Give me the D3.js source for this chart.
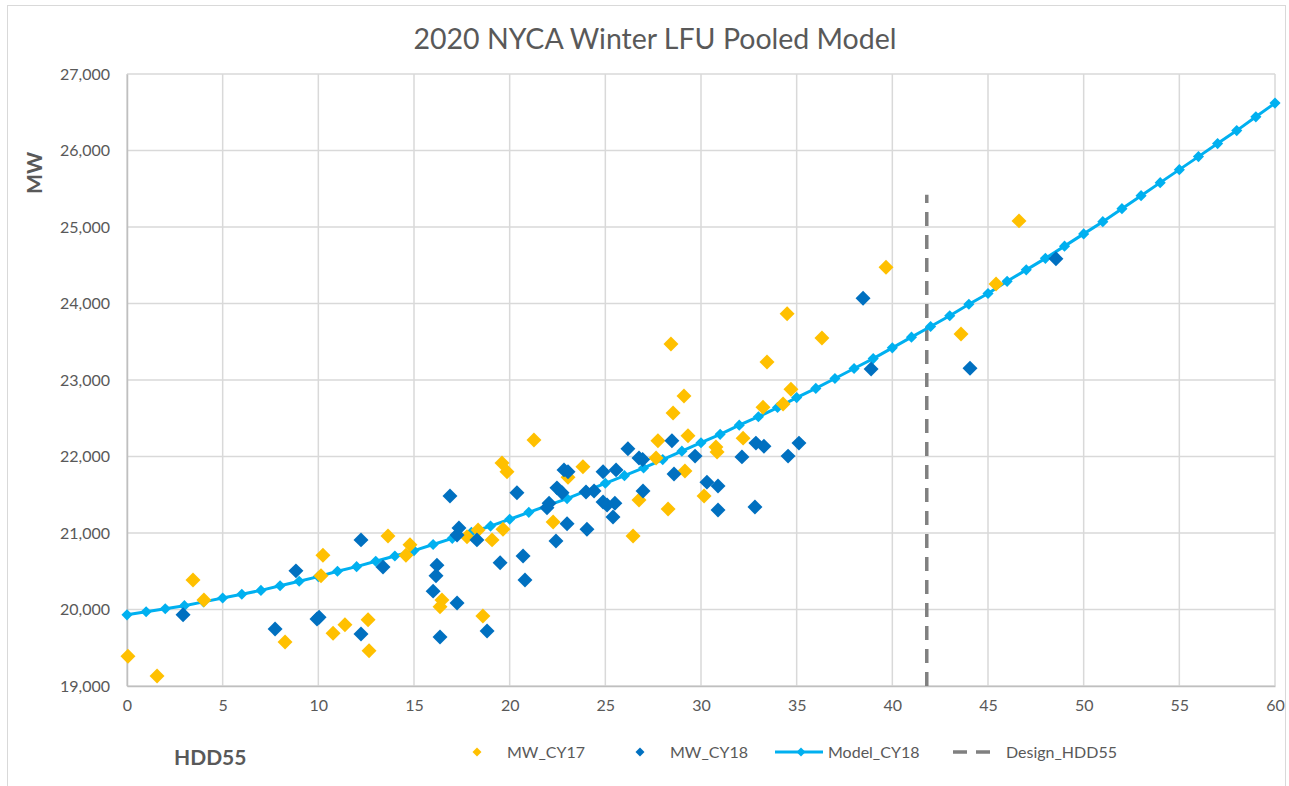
<!DOCTYPE html>
<html>
<head>
<meta charset="utf-8">
<script src="https://cdn.jsdelivr.net/npm/d3@7.9.0/dist/d3.min.js"></script>
<style>
  body { margin: 0; background: #fff; }
  svg text { font-family: Lato, "Open Sans", sans-serif; fill: #595959; }
</style>
</head>
<body>
<svg id="chart" width="1289" height="786"></svg>
<script>
// scatter data (HDD55, MW)
const cy17Hdd = [0.05, 1.57, 3.45, 4.02, 8.26, 10.24, 10.14, 10.77, 11.39, 12.6, 12.65, 13.64, 14.58, 14.79,
  16.46, 16.36, 17.77, 18.35, 19.08, 19.65, 18.6, 19.6, 19.86, 21.27, 22.27, 23.05, 23.83, 26.45, 26.76,
  27.65, 27.75, 28.28, 28.43, 28.54, 29.11, 29.16, 29.32, 30.16, 30.78, 30.84, 32.2, 33.24, 33.45, 34.29,
  34.5, 34.7, 36.32, 39.67, 43.59, 45.42, 46.62];
const cy17Mw = [19390, 19130, 20385, 20125, 19575, 20710, 20440, 19690, 19800, 19865, 19460, 20960, 20710, 20845,
  20125, 20035, 20950, 21040, 20910, 21050, 19915, 21915, 21800, 22215, 21145, 21730, 21865, 20960, 21430,
  21980, 22205, 21315, 23470, 22570, 22790, 21810, 22270, 21485, 22125, 22060, 22240, 22645, 23235, 22685,
  23865, 22880, 23550, 24475, 23600, 24255, 25080];

const cy18Hdd = [2.93, 7.74, 8.83, 9.93, 10.04, 12.23, 12.23, 13.38, 16.0, 16.15, 16.2, 16.36, 16.88, 17.25,
  17.35, 17.25, 18.29, 18.82, 19.5, 20.38, 20.7, 20.8, 21.95, 22.06, 22.42, 22.47, 22.74, 22.84, 23.0, 23.05,
  23.99, 24.04, 24.41, 24.88, 24.88, 25.09, 25.4, 25.5, 25.56, 26.18, 26.76, 26.95, 26.97, 28.48, 28.59,
  29.69, 30.31, 30.89, 30.89, 32.14, 32.82, 32.87, 33.29, 34.55, 35.12, 38.47, 38.89, 44.06, 48.55];
const cy18Mw = [19930, 19745, 20505, 19875, 19900, 19680, 20910, 20555, 20240, 20440, 20580, 19640, 21485, 20975,
  21065, 20085, 20910, 19720, 20610, 21525, 20700, 20385, 21330, 21390, 20895, 21590, 21525, 21825, 21120, 21800,
  21535, 21050, 21550, 21800, 21405, 21365, 21210, 21390, 21825, 22100, 21980, 21960, 21550, 22205, 21770,
  22005, 21665, 21615, 21300, 21995, 21340, 22175, 22135, 22005, 22175, 24070, 23145, 23155, 24585];

// model curve, one point per HDD
const modelHdd = d3.range(0, 61);
const modelMw = [19930, 19970, 20010, 20050, 20100, 20150, 20200, 20250, 20310, 20370,
  20430, 20500, 20560, 20630, 20700, 20770, 20850, 20930, 21010, 21090,
  21180, 21270, 21360, 21450, 21550, 21650, 21750, 21850, 21960, 22070,
  22180, 22290, 22410, 22520, 22640, 22770, 22890, 23020, 23150, 23280,
  23420, 23560, 23700, 23840, 23990, 24130, 24290, 24440, 24590, 24750,
  24910, 25070, 25240, 25410, 25580, 25750, 25920, 26090, 26260, 26440, 26620];

const designHdd = [41.8, 41.8];
const designMw = [19000, 25420];

const xTicks = d3.range(0, 61, 5);
const yTicks = d3.range(19000, 27001, 1000);
const legendNames = ['MW_CY17', 'MW_CY18', 'Model_CY18', 'Design_HDD55'];

const yellow = '#ffc000', blue = '#0070c0', cyan = '#00b0f0', grey = '#808080';

const svg = d3.select('#chart');
const margin = { left: 127, top: 74, right: 14, bottom: 100 };
const width = 1289 - margin.left - margin.right;
const height = 786 - margin.top - margin.bottom;

const x = d3.scaleLinear().domain([0, 60]).range([margin.left, margin.left + width]);
const y = d3.scaleLinear().domain([19000, 27000]).range([margin.top + height, margin.top]);

// outer chart border
svg.append('rect')
  .attr('x', 7.5).attr('y', 5.5).attr('width', 1278).attr('height', 790)
  .attr('fill', 'none').attr('stroke', '#d9d9d9');

// gridlines
svg.append('g').selectAll('line').data(yTicks).join('line')
  .attr('x1', x(0)).attr('x2', x(60))
  .attr('y1', d => y(d)).attr('y2', d => y(d))
  .attr('stroke', '#d9d9d9').attr('stroke-width', 1.5);
svg.append('g').selectAll('line').data(xTicks).join('line')
  .attr('x1', d => x(d)).attr('x2', d => x(d))
  .attr('y1', y(19000)).attr('y2', y(27000))
  .attr('stroke', '#d9d9d9').attr('stroke-width', 1.5);

// axes
const xAxis = svg.append('g')
  .attr('transform', `translate(0,${y(19000)})`)
  .call(d3.axisBottom(x).tickValues(xTicks).tickSize(0).tickPadding(14));
xAxis.select('.domain').attr('stroke', '#bfbfbf').attr('stroke-width', 1.5);
xAxis.selectAll('text').attr('font-size', 16).style('font-family', 'Lato, sans-serif').attr('fill', '#595959');

const yAxis = svg.append('g')
  .attr('transform', `translate(${x(0)},0)`)
  .call(d3.axisLeft(y).tickValues(yTicks).tickSize(0).tickPadding(17).tickFormat(d3.format(',')));
yAxis.select('.domain').attr('stroke', '#bfbfbf').attr('stroke-width', 1.5);
yAxis.selectAll('text').attr('font-size', 16).style('font-family', 'Lato, sans-serif').attr('fill', '#595959');

// design line
svg.append('line')
  .attr('x1', x(designHdd[0])).attr('x2', x(designHdd[1]))
  .attr('y1', y(designMw[0])).attr('y2', y(designMw[1]))
  .attr('stroke', grey).attr('stroke-width', 3.5)
  .attr('stroke-dasharray', '14 9');

const diamond = size => d3.symbol().type(d3.symbolSquare).size(size)();

// model line + markers
const model = modelHdd.map((h, i) => [h, modelMw[i]]);
svg.append('path').datum(model)
  .attr('d', d3.line().x(d => x(d[0])).y(d => y(d[1])))
  .attr('fill', 'none').attr('stroke', cyan).attr('stroke-width', 3);
svg.append('g').selectAll('path').data(model).join('path')
  .attr('d', diamond(62))
  .attr('transform', d => `translate(${x(d[0])},${y(d[1])}) rotate(45)`)
  .attr('fill', cyan);

// scatter points
function scatter(hdd, mw, color) {
  svg.append('g').selectAll('path').data(hdd.map((h, i) => [h, mw[i]])).join('path')
    .attr('d', diamond(112))
    .attr('transform', d => `translate(${x(d[0])},${y(d[1])}) rotate(45)`)
    .attr('fill', color);
}
scatter(cy17Hdd, cy17Mw, yellow);
scatter(cy18Hdd, cy18Mw, blue);

// title and axis titles
svg.append('text')
  .attr('x', 655).attr('y', 49).attr('text-anchor', 'middle')
  .attr('font-size', 28.5)
  .text('2020 NYCA Winter LFU Pooled Model');

svg.append('text')
  .attr('transform', 'translate(42,173) rotate(-90)')
  .attr('text-anchor', 'middle')
  .attr('font-size', 21).attr('font-weight', 'bold')
  .text('MW');

svg.append('text')
  .attr('x', 174).attr('y', 765)
  .attr('font-size', 21).attr('font-weight', 'bold')
  .text('HDD55');

// legend
const legend = svg.append('g').attr('transform', 'translate(0,752)');
const legendX = [477, 640, 775, 953];
legendNames.forEach((name, i) => {
  const g = legend.append('g').attr('transform', `translate(${legendX[i]},0)`);
  let textX = 30;
  if (i === 0 || i === 1) {
    g.append('path').attr('d', diamond(40)).attr('transform', 'rotate(45)')
      .attr('fill', i === 0 ? yellow : blue);
  } else if (i === 2) {
    g.append('line').attr('x1', 0).attr('x2', 48).attr('stroke', cyan).attr('stroke-width', 3);
    g.append('path').attr('d', diamond(40)).attr('transform', 'translate(26,0) rotate(45)').attr('fill', cyan);
    textX = 53;
  } else {
    g.append('line').attr('x1', 0).attr('x2', 43).attr('stroke', grey).attr('stroke-width', 3.5)
      .attr('stroke-dasharray', '14 9');
    textX = 53;
  }
  g.append('text').attr('x', textX).attr('y', 6).attr('font-size', 16).text(name);
});
</script>
</body>
</html>
